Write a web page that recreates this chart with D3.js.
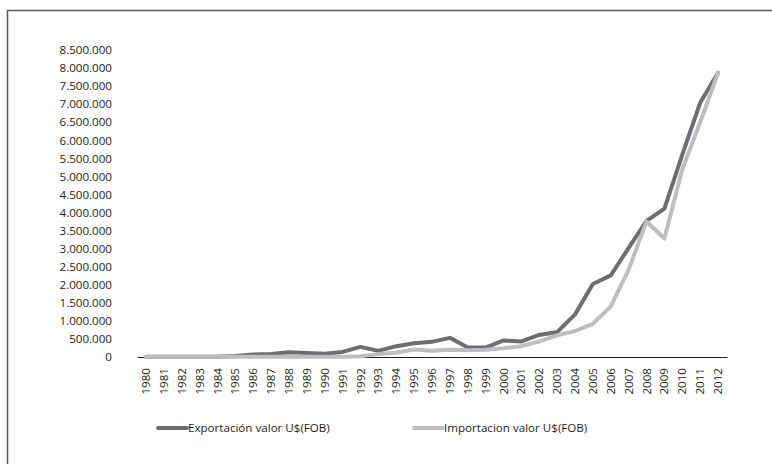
<!DOCTYPE html>
<html>
<head>
<meta charset="utf-8">
<script src="https://cdn.jsdelivr.net/npm/d3@7"></script>
<style>
  html, body { margin: 0; padding: 0; background: #fff; }
  svg { display: block; font-family: "Open Sans", sans-serif; }
</style>
</head>
<body>
<svg id="chart" width="772" height="464"></svg>
<script>
const years = ["1980","1981","1982","1983","1984","1985","1986","1987","1988","1989","1990","1991","1992","1993","1994","1995","1996","1997","1998","1999","2000","2001","2002","2003","2004","2005","2006","2007","2008","2009","2010","2011","2012"];
const exportacion = [10000,10000,10000,10000,10000,30000,70000,80000,130000,110000,90000,140000,280000,170000,300000,380000,420000,530000,260000,260000,460000,430000,610000,690000,1180000,2020000,2260000,3020000,3770000,4110000,5600000,7040000,7870000];
const importacion = [10000,10000,10000,10000,10000,10000,10000,10000,10000,10000,10000,10000,20000,80000,120000,210000,170000,200000,190000,200000,240000,300000,430000,600000,720000,920000,1400000,2420000,3750000,3280000,5200000,6500000,7870000];
const yTicks = [0,500000,1000000,1500000,2000000,2500000,3000000,3500000,4000000,4500000,5000000,5500000,6000000,6500000,7000000,7500000,8000000,8500000];
const seriesNames = ["Exportación valor  U$(FOB)", "Importacion valor U$(FOB)"];
const seriesColors = ["#6d6e71", "#bcbec0"];

const svg = d3.select("#chart");

// frame
svg.append("path")
  .attr("d", "M7.5,464 L7.5,10.5 L772,10.5")
  .attr("fill", "none").attr("stroke", "#58595b").attr("stroke-width", 1.5);

const x = d3.scaleBand().domain(years).range([137, 727]);
const y = d3.scaleLinear().domain([0, 8500000]).range([357, 50]);

const fmt = v => d3.format(",")(v).replace(/,/g, ".");
const fs = 11.6;

// y axis labels
const yAxis = d3.axisLeft(y).tickValues(yTicks).tickFormat(fmt).tickSize(0).tickPadding(0);
const gy = svg.append("g").attr("transform", "translate(112,0)").call(yAxis);
gy.select(".domain").remove();
gy.selectAll("text").attr("font-size", fs).attr("fill", "#231f20").attr("font-family", "Open Sans, sans-serif");

// x axis
const xAxis = d3.axisBottom(x).tickSize(0).tickPadding(0);
const gx = svg.append("g").attr("transform", `translate(0,${y(0)})`).call(xAxis);
gx.select(".domain").attr("stroke", "#231f20").attr("stroke-width", 1.2);
gx.selectAll("text")
  .attr("font-size", fs).attr("fill", "#231f20").attr("font-family", "Open Sans, sans-serif")
  .attr("text-anchor", "end")
  .attr("transform", "rotate(-90)")
  .attr("x", -11).attr("y", 0).attr("dy", "0.35em");

const line = d3.line().x((d, i) => x(years[i]) + x.bandwidth() / 2).y(d => y(d));

[exportacion, importacion].forEach((s, k) => {
  svg.append("path").datum(s)
    .attr("d", line)
    .attr("fill", "none")
    .attr("stroke", seriesColors[k])
    .attr("stroke-width", 4)
    .attr("stroke-linejoin", "round")
    .attr("stroke-linecap", "round");
});

// legend
const legendPos = [158, 414];
seriesNames.forEach((n, k) => {
  const g = svg.append("g").attr("transform", `translate(${legendPos[k]},428)`);
  g.append("line").attr("x1", 0).attr("x2", 29).attr("y1", 0).attr("y2", 0)
    .attr("stroke", seriesColors[k]).attr("stroke-width", 4).attr("stroke-linecap", "round");
  g.append("text").attr("x", 30).attr("y", 0).attr("dy", "0.35em")
    .attr("font-size", fs).attr("fill", "#231f20").text(n);
});
</script>
</body>
</html>
